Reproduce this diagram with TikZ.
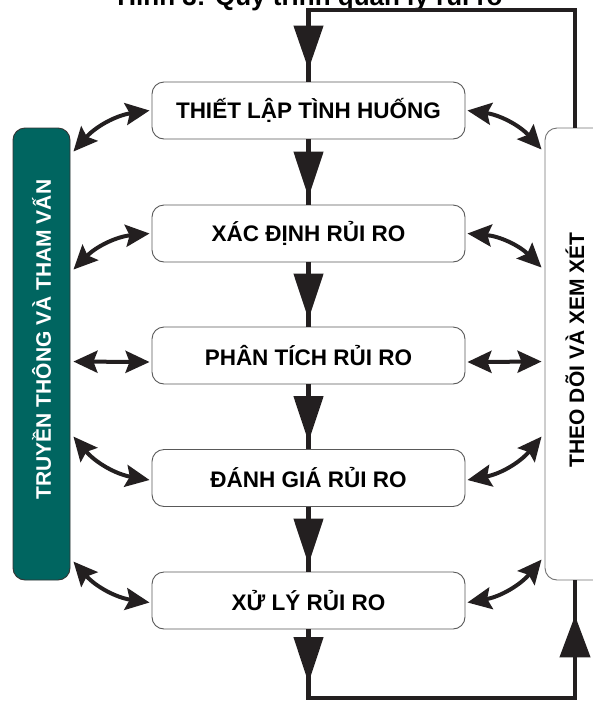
\documentclass[tikz,border=0pt]{standalone}
\usepackage{fontspec}
\setmainfont{Liberation Sans}
\usetikzlibrary{arrows.meta,calc}
\definecolor{tealbox}{RGB}{0,101,96}
\definecolor{ink}{RGB}{35,31,32}
\begin{document}
\begin{tikzpicture}[x=1pt,y=-1pt,
  stepbox/.style={draw=black!65, line width=0.9pt, rounded corners=12pt, fill=white,
    minimum width=313pt, minimum height=57pt, inner sep=0pt,
    font=\fontsize{22.5}{24}\selectfont\bfseries},
  sidebox/.style={line width=0.9pt, rounded corners=12pt, minimum width=57pt,
    minimum height=452pt, inner sep=0pt},
  sidetext/.style={rotate=90, font=\fontsize{21}{23}\selectfont\bfseries, inner sep=0pt},
  flow/.style={draw=ink, line width=4.5pt},
  headdown/.style={flow, -{Triangle[length=46pt,width=29pt]}},
  biarrow/.style={draw=ink, line width=4pt,
    {Stealth[length=24pt,width=22pt,inset=4pt]}-{Stealth[length=24pt,width=22pt,inset=4pt]}}
]
\useasboundingbox (0,0) rectangle (593,702);

% title (cut by page top, as in the reference)
\node[anchor=base, font=\fontsize{26}{28}\selectfont\bfseries, inner sep=0pt] (title) at (310,5) {Hình 3: Quy trình quản lý rủi ro};

% side boxes
\node[sidebox, draw=black!80, fill=tealbox] (tc) at (41.5,354) {};
\node[sidetext, text=white] (tct) at (41.5,339.5) {TRUYỀN THÔNG VÀ THAM VẤN};
\node[sidebox, draw=black!55, fill=white, minimum width=60pt] (rb) at (575,354) {};
\node[sidetext, text=black] (rbt) at (575,350) {THEO DÕI VÀ XEM XÉT};

% process boxes
\node[stepbox] (b1) at (308.5,110.5) {THIẾT LẬP TÌNH HUỐNG};
\node[stepbox] (b2) at (308.5,233.5) {XÁC ĐỊNH RỦI RO};
\node[stepbox] (b3) at (308.5,355.5) {PHÂN TÍCH RỦI RO};
\node[stepbox] (b4) at (308.5,478) {ĐÁNH GIÁ RỦI RO};
\node[stepbox] (b5) at (308.5,600.5) {XỬ LÝ RỦI RO};

% main flow
\foreach \a/\b in {b1/b2,b2/b3,b3/b4,b4/b5}{
  \draw[flow] (\a.south) -- (\b.north);
  \draw[headdown] (\a.south) -- ($(\b.north)+(0,-7)$);
}

% feedback loop
\coordinate (c1) at (b5.south |- 0,698);
\coordinate (c2) at (rb.south |- 0,698);
\coordinate (c3) at (rb.north |- 0,10);
\coordinate (c4) at (b1.north |- 0,10);
\draw[flow, line join=miter] (b5.south) -- (c1) -- (c2) -- (rb.south);
\draw[headdown] (b5.south) -- ($(c1)+(0,-15)$);
\draw[flow, -{Triangle[length=42pt,width=30pt]}] (c2) -- ($(rb.south)+(0,35)$);
\draw[flow, line join=miter] (rb.north) -- (c3) -- (c4) -- (b1.north);
\draw[flow, -{Triangle[length=44pt,width=29pt]}] (c4) -- ($(b1.north)+(0,-12)$);

% connection points on side boxes
\coordinate (L1) at ($(tc.north east)+(3,24)$);
\coordinate (L2) at ($(tc.north east)+(3,142)$);
\coordinate (L3) at ($(tc.north east)+(3,234)$);
\coordinate (L4) at ($(tc.north east)+(3,309)$);
\coordinate (L5) at ($(tc.north east)+(3,434)$);
\coordinate (R1) at ($(rb.north west)+(-3,22)$);
\coordinate (R2) at ($(rb.north west)+(-3,140)$);
\coordinate (R3) at ($(rb.north west)+(-3,234)$);
\coordinate (R4) at ($(rb.north west)+(-3,309)$);
\coordinate (R5) at ($(rb.north west)+(-3,432)$);

% left double arrows
\draw[biarrow] (L1) to[bend left=20] ([xshift=-2pt]b1.west);
\draw[biarrow] (L2) to[bend left=20] ([xshift=-2pt]b2.west);
\draw[biarrow] (L3) -- ([xshift=-2pt,yshift=-6.5pt]b3.west);
\draw[biarrow] (L4) to[bend right=20] ([xshift=-2pt,yshift=-2pt]b4.west);
\draw[biarrow] (L5) to[bend right=20] ([xshift=-2pt,yshift=-2pt]b5.west);

% right double arrows
\draw[biarrow] ([xshift=2pt]b1.east) to[bend left=20] (R1);
\draw[biarrow] ([xshift=2pt]b2.east) to[bend left=20] (R2);
\draw[biarrow] ([xshift=2pt,yshift=-6.5pt]b3.east) -- (R3);
\draw[biarrow] ([xshift=2pt,yshift=-2pt]b4.east) to[bend right=20] (R4);
\draw[biarrow] ([xshift=2pt,yshift=-2pt]b5.east) to[bend right=20] (R5);
\end{tikzpicture}
\end{document}
